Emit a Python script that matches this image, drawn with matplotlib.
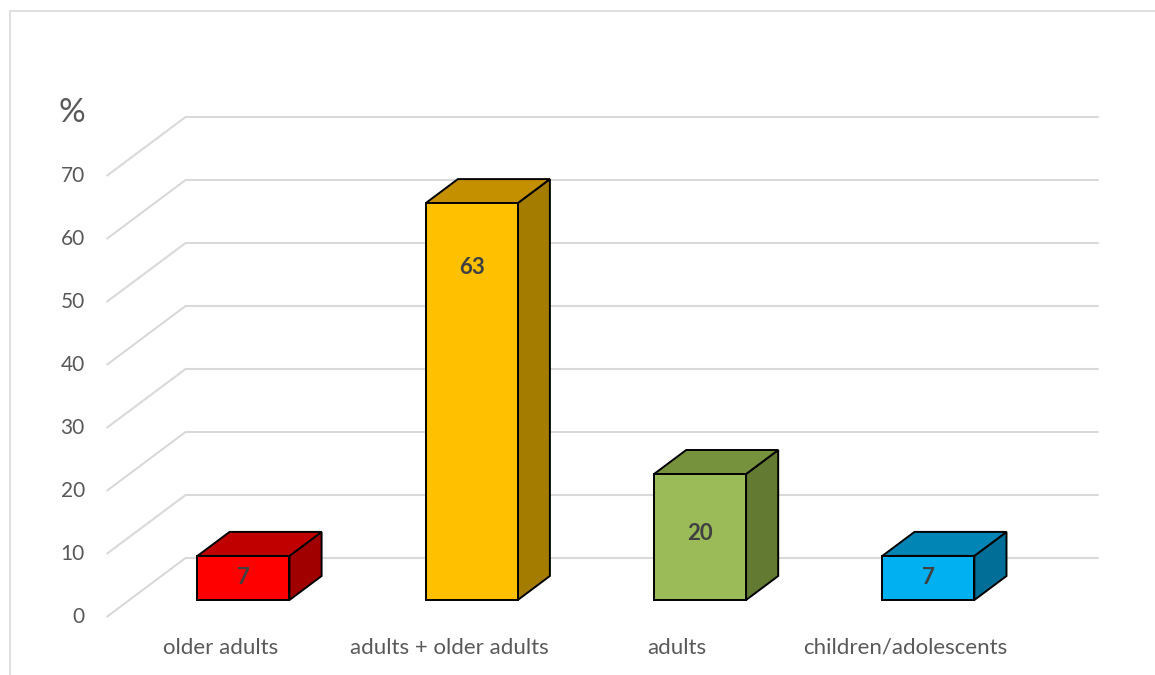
import matplotlib.pyplot as plt
from matplotlib.patches import Polygon, Rectangle

categories = ['older adults', 'adults + older adults', 'adults', 'children/adolescents']
values = [7, 63, 20, 7]
yticks = [0, 10, 20, 30, 40, 50, 60, 70]

front_colors = ['#FF0000', '#FFC000', '#9BBB59', '#00B0F0']
top_colors = ['#C00000', '#C49000', '#76923C', '#0085B5']
side_colors = ['#A00000', '#A47C00', '#627A32', '#006E96']
# where the value label sits on the front face (value units)
label_pos = [3.6, 52.7, 10.6, 3.6]

# layout (pixels of the 1155x675 canvas)
W, H = 1155, 675
px_cat, px_val = 228.3, 6.3        # px per category / per value unit
x0_px, y0_px = 220.7, 617          # front-plane origin
depth_px = (79, 59)                # px shift from front to back wall
DX = depth_px[0] / px_cat
DY = depth_px[1] / px_val
zf, zb = 17 / 59, 41 / 59          # bar front / back depth
bw = 92 / px_cat

def proj(x, v, z):
    return (x + DX * z, v + DY * z)

plt.rcParams['font.family'] = ['Lato', 'DejaVu Sans']
fig = plt.figure(figsize=(W / 100, H / 100), dpi=100)
ax = fig.add_axes([0, 0, 1, 1])
ax.set_xlim(-x0_px / px_cat, (W - x0_px) / px_cat)
ax.set_ylim((y0_px - H) / px_val, y0_px / px_val)
ax.axis('off')

# chart border
fig.patches.append(Rectangle((10 / W, -0.1), 1.2, 1 - 11 / H + 0.1, transform=fig.transFigure,
                             fill=False, ec='#D9D9D9', lw=1.2))

# gridlines: side wall diagonal + back wall
xl, xr = -0.5, 3.5
for t in yticks:
    pts = [proj(xl, t, 0), proj(xl, t, 1), proj(xr, t, 1)]
    ax.plot([p[0] for p in pts], [p[1] for p in pts], color='#D9D9D9', lw=1.5,
            solid_capstyle='butt', zorder=1)
    ax.text(xl - 0.095, t, str(t), ha='right', va='center', fontsize=15, color='#595959')
ax.text(xl - 0.095, 80, '%', ha='right', va='center', fontsize=24, color='#595959')

# bars
for i, v in enumerate(values):
    l, r = i - bw / 2, i + bw / 2
    front = [proj(l, 0, zf), proj(r, 0, zf), proj(r, v, zf), proj(l, v, zf)]
    top = [proj(l, v, zf), proj(r, v, zf), proj(r, v, zb), proj(l, v, zb)]
    side = [proj(r, 0, zf), proj(r, 0, zb), proj(r, v, zb), proj(r, v, zf)]
    for poly, c in [(side, side_colors[i]), (top, top_colors[i]), (front, front_colors[i])]:
        ax.add_patch(Polygon(poly, closed=True, fc=c, ec='black', lw=1.4,
                             joinstyle='miter', zorder=3))
    lx, ly = proj(i, label_pos[i], zf)
    ax.text(lx, ly, str(v), ha='center', va='center', fontsize=16, fontweight='bold',
            color='#404040', zorder=4)

# category labels on the front plane
for i, c in enumerate(categories):
    ax.text(i, -4.9, c, ha='center', va='center', fontsize=16, color='#595959')

fig.savefig('out.png', dpi=100)
